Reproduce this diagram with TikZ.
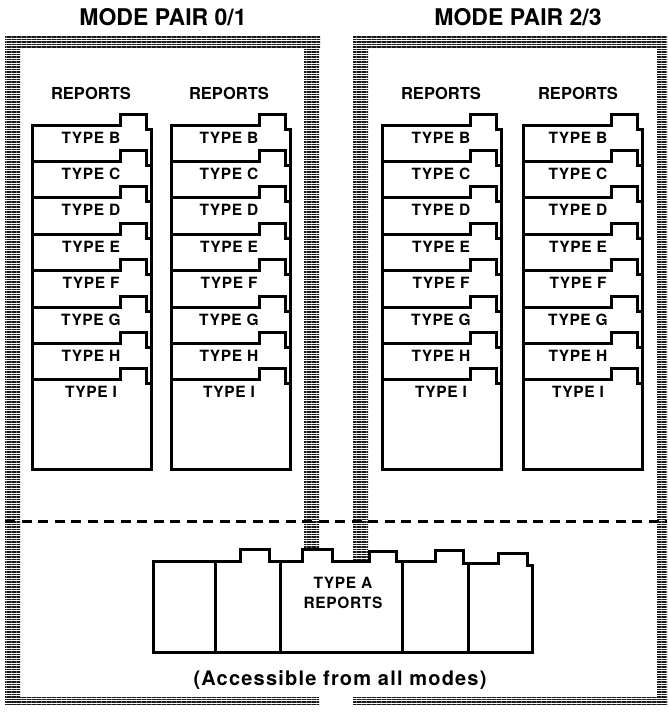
\documentclass[tikz,border=0pt]{standalone}
\usepackage{fontspec}
\setmainfont{TeX Gyre Heros}
\usetikzlibrary{patterns.meta}
\begin{document}
\begin{tikzpicture}[x=1pt,y=-1pt,
  hatch/.style={pattern={Lines[distance=2.5pt,line width=1.5pt,angle=0]},pattern color=black!90},
  card/.style={line width=3pt,line join=miter,line cap=rect},
  lbl/.style={font=\bfseries\fontsize{15.5}{15.5}\selectfont\addfontfeature{LetterSpace=4},inner sep=0pt},
  rep/.style={font=\bfseries\fontsize{16.5}{16.5}\selectfont,inner sep=0pt},
  ttl/.style={font=\bfseries\fontsize{23}{23}\selectfont,inner sep=0pt},
  sepline/.style={line width=3pt,dash pattern=on 10pt off 6.5pt}]
\useasboundingbox (0,0) rectangle (667,712);
% hatched frames
\fill[hatch] (5,35) rectangle (320,48);
\fill[hatch] (5,48) rectangle (20,705);
\fill[hatch] (304,48) rectangle (319,549);
\fill[hatch] (5,697) rectangle (319,705);
\fill[hatch] (353,35) rectangle (667,48);
\fill[hatch] (353,48) rectangle (368,561);
\fill[hatch] (657,48) rectangle (667,705);
\fill[hatch] (353,697) rectangle (667,705);
% titles
\node[ttl] (title1) at (163,17) {MODE PAIR 0/1};
\node[ttl] (title2) at (518,17) {MODE PAIR 2/3};
% card columns
\foreach \c/\L/\tx in {1/32/91, 2/171/229, 3/382/441, 4/523/578}{
  \node[rep] (rep\c) at (\tx,93) {REPORTS};
  \draw[card] (\L,125) -- (\L,469) -- (\L+119,469) -- (\L+119,129);
  \foreach \k/\nm in {0/B,1/C,2/D,3/E,4/F,5/G,6/H,7/I}{
    \pgfmathsetmacro{\t}{125+36.4*\k}
    \draw[card] (\L,\t) -- (\L+88,\t) -- (\L+88,\t-11) -- (\L+114,\t-11)
      -- (\L+114,\t+4) -- (\L+119,\t+4);
    \node[lbl] (card\c\nm) at (\tx,\t+12.5) {TYPE \nm};
  }
}
% dashed separator
\coordinate (sepL) at (5,521);
\coordinate (sepR) at (667,521);
\draw[sepline] (sepL) -- (sepR);
% type A cabinet
\draw[card] (153,652) -- (153,561) -- (240,561) -- (240,549) -- (269,549) -- (269,561)
  -- (302,561) -- (302,549) -- (332,549) -- (332,561) -- (369,561) -- (369,551)
  -- (396,551) -- (396,561) -- (435,561) -- (435,550) -- (463,550) -- (463,563)
  -- (498,563) -- (498,553) -- (527,553) -- (527,565) -- (532,565) -- (532,652) -- cycle;
\draw[card] (215,561) -- (215,652);
\draw[card] (280,561) -- (280,652);
\draw[card] (402,561) -- (402,652);
\draw[card] (468,563) -- (468,652);
\node[lbl] (typeA) at (343,583) {TYPE A};
\node[lbl] (typeArep) at (343,603) {REPORTS};
\node[font=\bfseries\fontsize{20}{20}\selectfont\addfontfeature{LetterSpace=6},inner sep=0pt] (access) at (340,680) {(Accessible from all modes)};
\end{tikzpicture}
\end{document}
